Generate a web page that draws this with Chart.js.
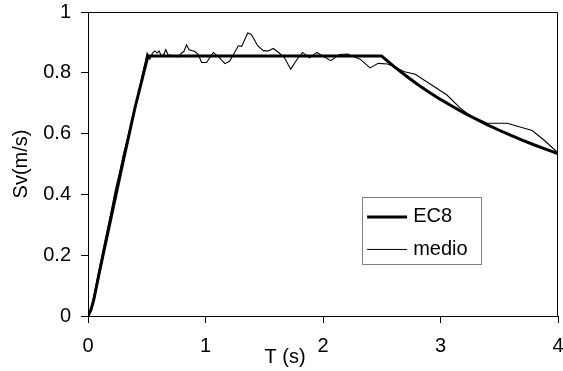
<!DOCTYPE html>
<html>
<head>
<meta charset="utf-8">
<script src="https://cdn.jsdelivr.net/npm/chart.js@4/dist/chart.umd.min.js"></script>
<style>
  html, body { margin: 0; padding: 0; background: #ffffff; }
  #wrap { width: 563px; height: 371px; position: relative; }
</style>
</head>
<body>
<div id="wrap"><canvas id="c" width="563" height="371"></canvas></div>
<script>
// ---- data ----
const seriesNames = ["EC8", "medio"];
const xTicks = [0, 1, 2, 3, 4];
const yTicks = [0, 0.2, 0.4, 0.6, 0.8, 1];

const ec8T  = [0, 0.025, 0.05, 0.1, 0.2, 0.3, 0.4, 0.51, 2.5, 2.6, 2.7, 2.8, 2.9, 3.0, 3.1, 3.2, 3.3, 3.4, 3.5, 3.6, 3.7, 3.8, 3.9, 4.0];
const ec8Sv = [0, 0.02, 0.055, 0.15, 0.33, 0.51, 0.685, 0.855, 0.855, 0.822, 0.792, 0.763, 0.737, 0.7125, 0.690, 0.668, 0.648, 0.629, 0.611, 0.594, 0.578, 0.5625, 0.548, 0.534];

const medioT  = [0, 0.03, 0.06, 0.1, 0.13, 0.16, 0.2, 0.23, 0.27, 0.3, 0.34, 0.37, 0.4, 0.43, 0.46, 0.49,
                 0.503, 0.526, 0.549, 0.569, 0.588, 0.605, 0.625, 0.645, 0.662, 0.682, 0.725, 0.767, 0.796, 0.816,
                 0.839, 0.861, 0.91, 0.938, 0.967, 1.009, 1.066, 1.108, 1.165, 1.205, 1.245, 1.279, 1.308, 1.359,
                 1.39, 1.444, 1.495, 1.535, 1.577, 1.625, 1.671, 1.725, 1.777, 1.826, 1.885, 1.947, 2.066, 2.14,
                 2.21, 2.316, 2.40, 2.47, 2.55, 2.61, 2.686, 2.785, 3.055, 3.169, 3.25, 3.397, 3.567, 3.78, 3.88, 4.0];
const medioSv = [0, 0.03, 0.085, 0.16, 0.22, 0.275, 0.35, 0.41, 0.475, 0.53, 0.59, 0.64, 0.68, 0.73, 0.79, 0.84,
                 0.865, 0.845, 0.865, 0.872, 0.865, 0.872, 0.855, 0.86, 0.876, 0.859, 0.856, 0.852, 0.865, 0.87,
                 0.892, 0.876, 0.87, 0.86, 0.834, 0.834, 0.867, 0.854, 0.83, 0.838, 0.865, 0.889, 0.887, 0.931,
                 0.926, 0.889, 0.872, 0.872, 0.88, 0.866, 0.85, 0.812, 0.843, 0.867, 0.849, 0.867, 0.84, 0.86,
                 0.862, 0.845, 0.816, 0.831, 0.829, 0.82, 0.804, 0.795, 0.727, 0.684, 0.66, 0.634, 0.634, 0.61, 0.579, 0.537];

const xTitle = "T (s)";
const yTitle = "Sv(m/s)";

const FONT = "'Liberation Sans', Arial, sans-serif";
const FSIZE = 20;

function pts(xs, ys) { return xs.map((x, i) => ({ x: x, y: ys[i] })); }

const framePlugin = {
  id: 'frame',
  afterDraw(chart) {
    const ctx = chart.ctx, a = chart.chartArea;
    const xs = chart.scales.x, ys = chart.scales.y;
    ctx.save();
    // top/right frame of plot area
    ctx.strokeStyle = '#000';
    ctx.lineWidth = 1;
    ctx.beginPath();
    ctx.moveTo(a.left, Math.round(a.top) + 0.5);
    ctx.lineTo(Math.round(a.right) - 0.5, Math.round(a.top) + 0.5);
    ctx.lineTo(Math.round(a.right) - 0.5, a.bottom);
    ctx.stroke();

    // x axis title (placed as in the reference, left of centre)
    ctx.fillStyle = '#000';
    ctx.font = FSIZE + 'px ' + FONT;
    ctx.textAlign = 'center';
    ctx.textBaseline = 'middle';
    ctx.fillText(xTitle, xs.getPixelForValue(1.677), a.bottom + 41);

    // legend box
    const L = xs.getPixelForValue(2.333), R = xs.getPixelForValue(3.347);
    const T = ys.getPixelForValue(0.39), B = ys.getPixelForValue(0.17);
    ctx.fillStyle = '#fff';
    ctx.fillRect(L, T, R - L, B - T);
    ctx.strokeStyle = '#808080';
    ctx.lineWidth = 1;
    ctx.strokeRect(Math.round(L) + 0.5, Math.round(T) + 0.5, Math.round(R - L), Math.round(B - T));
    const rows = [{ name: seriesNames[0], w: 3 }, { name: seriesNames[1], w: 1 }];
    const rowY = [T + 19.5, T + 52];
    rows.forEach((r, i) => {
      ctx.strokeStyle = '#000';
      ctx.lineWidth = r.w;
      ctx.beginPath();
      ctx.moveTo(L + 5, rowY[i]);
      ctx.lineTo(L + 45, rowY[i]);
      ctx.stroke();
      ctx.fillStyle = '#000';
      ctx.textAlign = 'left';
      ctx.textBaseline = 'middle';
      ctx.fillText(r.name, L + 51, rowY[i]);
    });
    ctx.restore();
  }
};

new Chart(document.getElementById('c'), {
  type: 'line',
  data: {
    datasets: [
      { label: seriesNames[0], data: pts(ec8T, ec8Sv), borderColor: '#000', borderWidth: 3,
        pointRadius: 0, tension: 0, fill: false, borderJoinStyle: 'round' },
      { label: seriesNames[1], data: pts(medioT, medioSv), borderColor: '#000', borderWidth: 1.1,
        pointRadius: 0, tension: 0, fill: false }
    ]
  },
  options: {
    responsive: false,
    animation: false,
    events: [],
    layout: { padding: { top: 12, right: 5, left: 0, bottom: 0 } },
    plugins: { legend: { display: false }, tooltip: { enabled: false } },
    scales: {
      x: {
        type: 'linear', min: 0, max: 4,
        afterBuildTicks: s => { s.ticks = xTicks.map(v => ({ value: v })); },
        afterFit: s => { s.height = 55; s.paddingLeft = 0; s.paddingRight = 0; },
        grid: { display: true, drawOnChartArea: false, drawTicks: true, tickLength: 7, color: '#000', lineWidth: 1 },
        border: { display: true, color: '#000', width: 1 },
        ticks: { color: '#000', font: { family: FONT, size: FSIZE }, padding: 11, maxRotation: 0,
                 callback: v => String(v) }
      },
      y: {
        type: 'linear', min: 0, max: 1,
        afterBuildTicks: s => { s.ticks = yTicks.map(v => ({ value: v })); },
        afterFit: s => { s.width = 88; s.paddingTop = 0; s.paddingBottom = 0; },
        grid: { display: true, drawOnChartArea: false, drawTicks: true, tickLength: 7, color: '#000', lineWidth: 1 },
        border: { display: true, color: '#000', width: 1 },
        ticks: { color: '#000', font: { family: FONT, size: FSIZE }, padding: 10,
                 callback: v => String(Math.round(v * 10) / 10) },
        title: { display: true, text: yTitle, color: '#000', font: { family: FONT, size: FSIZE },
                 padding: { top: 9, bottom: 0 } }
      }
    }
  },
  plugins: [framePlugin]
});
</script>
</body>
</html>
